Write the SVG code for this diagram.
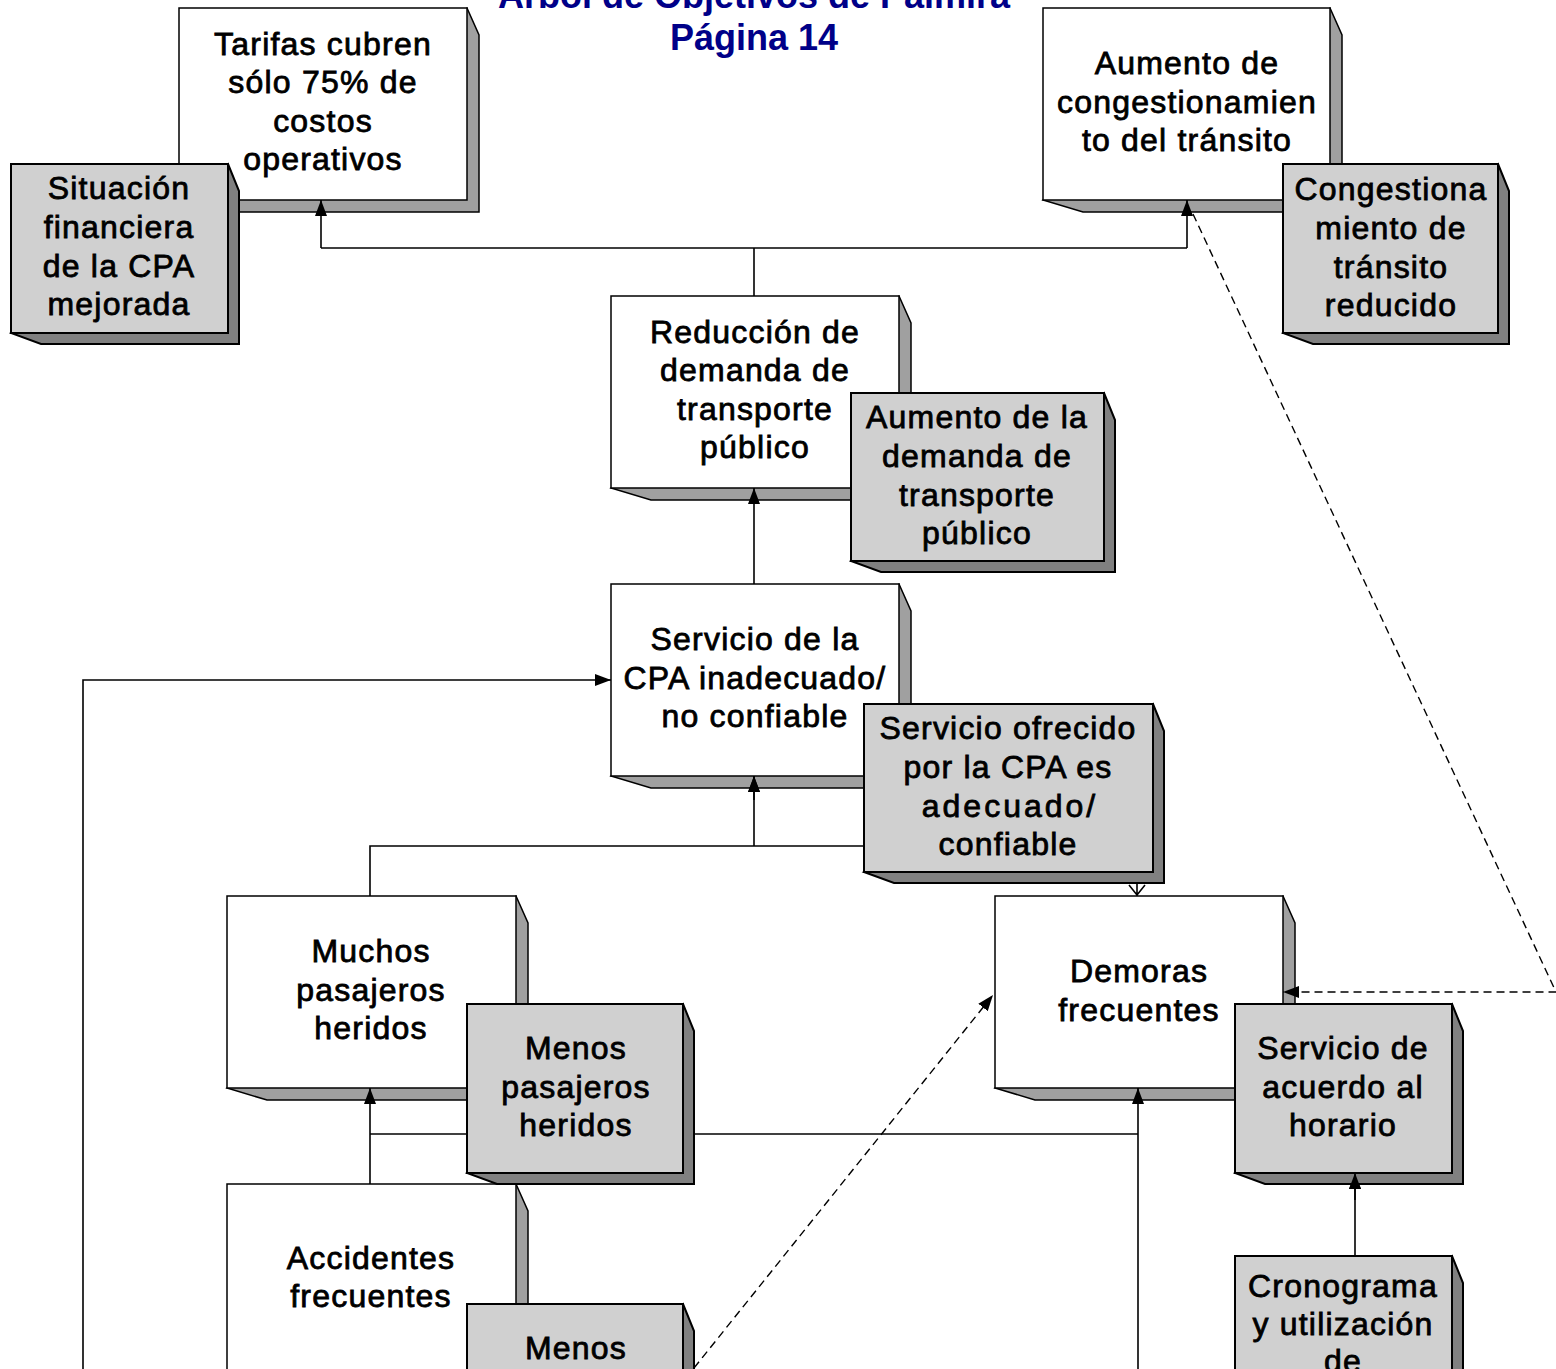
<svg xmlns="http://www.w3.org/2000/svg" width="1556" height="1369" viewBox="0 0 1556 1369">
  <style>
    .front-w { fill: #ffffff; stroke: #000; stroke-width: 1.5; }
    .side-w { fill: #a0a0a0; stroke: #000; stroke-width: 1.5; stroke-linejoin: miter; }
    .front-g { fill: #d0d0d0; stroke: #000; stroke-width: 2; }
    .side-g { fill: #808080; stroke: #000; stroke-width: 2; stroke-linejoin: miter; }
    .lbl { font-family: "Liberation Sans", Arial, sans-serif; font-size: 32px; letter-spacing: 1.2px; fill: #000; stroke: #000; stroke-width: 0.8; text-anchor: middle; }
    .title { font-family: "Liberation Sans", Arial, sans-serif; font-size: 36px; font-weight: bold; fill: #000088; text-anchor: middle; }
    .conn { fill: none; stroke: #000; stroke-width: 1.6; }
    .dash { fill: none; stroke: #000; stroke-width: 1.4; stroke-dasharray: 8 5; }
  </style>
  <defs>
    <marker id="arrow" markerUnits="userSpaceOnUse" markerWidth="16" markerHeight="12" refX="16" refY="6" orient="auto">
      <path d="M0,0 L16,6 L0,12 z" fill="#000"/>
    </marker>
  </defs>

  <rect width="1556" height="1369" fill="#ffffff"/>

  <!-- title -->
  <g id="title">
    <text class="title" x="754" y="8">Árbol de Objetivos de Palmira</text>
    <text class="title" x="754" y="50">Página 14</text>
  </g>

  <!-- white problem boxes: extrusion (x+w,y)(x+w+12,y+27)(x+w+12,y+h+12)(x+40,y+h+12)(x,y+h) -->
  <g id="n-tarifas">
    <polygon class="side-w" points="467,8 479,35 479,212 219,212 179,200"/>
    <rect class="front-w" x="179" y="8" width="288" height="192"/>
    <text class="lbl" x="323" y="55">Tarifas cubren</text>
    <text class="lbl" x="323" y="93">sólo 75% de</text>
    <text class="lbl" x="323" y="132">costos</text>
    <text class="lbl" x="323" y="170">operativos</text>
  </g>

  <g id="n-congestion">
    <polygon class="side-w" points="1330,8 1342,35 1342,212 1083,212 1043,200"/>
    <rect class="front-w" x="1043" y="8" width="287" height="192"/>
    <text class="lbl" x="1187" y="74">Aumento de</text>
    <text class="lbl" x="1187" y="113">congestionamien</text>
    <text class="lbl" x="1187" y="151">to del tránsito</text>
  </g>

  <g id="n-reduccion">
    <polygon class="side-w" points="899,296 911,323 911,500 651,500 611,488"/>
    <rect class="front-w" x="611" y="296" width="288" height="192"/>
    <text class="lbl" x="755" y="343">Reducción de</text>
    <text class="lbl" x="755" y="381">demanda de</text>
    <text class="lbl" x="755" y="420">transporte</text>
    <text class="lbl" x="755" y="458">público</text>
  </g>

  <g id="n-servicio">
    <polygon class="side-w" points="899,584 911,611 911,788 651,788 611,776"/>
    <rect class="front-w" x="611" y="584" width="288" height="192"/>
    <text class="lbl" x="755" y="650">Servicio de la</text>
    <text class="lbl" x="755" y="689">CPA inadecuado/</text>
    <text class="lbl" x="755" y="727">no confiable</text>
  </g>

  <g id="n-muchos">
    <polygon class="side-w" points="516,896 528,923 528,1100 267,1100 227,1088"/>
    <rect class="front-w" x="227" y="896" width="289" height="192"/>
    <text class="lbl" x="371" y="962">Muchos</text>
    <text class="lbl" x="371" y="1001">pasajeros</text>
    <text class="lbl" x="371" y="1039">heridos</text>
  </g>

  <g id="n-demoras">
    <polygon class="side-w" points="1283,896 1295,923 1295,1100 1035,1100 995,1088"/>
    <rect class="front-w" x="995" y="896" width="288" height="192"/>
    <text class="lbl" x="1139" y="982">Demoras</text>
    <text class="lbl" x="1139" y="1021">frecuentes</text>
  </g>

  <g id="n-accidentes">
    <polygon class="side-w" points="516,1184 528,1211 528,1388 267,1388 227,1376"/>
    <rect class="front-w" x="227" y="1184" width="289" height="192"/>
    <text class="lbl" x="371" y="1269">Accidentes</text>
    <text class="lbl" x="371" y="1307">frecuentes</text>
  </g>

  <!-- connectors: drawn above white boxes, below grey objective boxes -->
  <g id="connectors">
    <path class="conn" d="M754,296 V248"/>
    <path class="conn" d="M321,248 H1187"/>
    <path class="conn" d="M321,248 V200" marker-end="url(#arrow)"/>
    <path class="conn" d="M1187,248 V200" marker-end="url(#arrow)"/>
    <path class="conn" d="M754,584 V488" marker-end="url(#arrow)"/>
    <path class="conn" d="M370,896 V846 H1137"/>
    <path class="conn" d="M754,846 V776" marker-end="url(#arrow)"/>
    <path class="conn" d="M1137,880 V896 M1129,885 L1137,895 L1145,885"/>
    <path class="conn" d="M83,1369 V680 H611" marker-end="url(#arrow)"/>
    <path class="conn" d="M370,1184 V1088" marker-end="url(#arrow)"/>
    <path class="conn" d="M370,1134 H1138"/>
    <path class="conn" d="M1138,1369 V1088" marker-end="url(#arrow)"/>
    <path class="conn" d="M1355,1256 V1173" marker-end="url(#arrow)"/>
    <path class="dash" d="M694,1368 L993,995" marker-end="url(#arrow)"/>
    <path class="dash" d="M1193,214 L1556,992 H1283" marker-end="url(#arrow)"/>
  </g>

  <!-- grey objective boxes: extrusion (x+w,y)(x+w+11,y+27)(x+w+11,y+h+11)(x+30,y+h+11)(x,y+h) -->
  <g id="o-financiera">
    <polygon class="side-g" points="228,164 239,191 239,344 41,344 11,333"/>
    <rect class="front-g" x="11" y="164" width="217" height="169"/>
    <text class="lbl" x="119" y="199">Situación</text>
    <text class="lbl" x="119" y="238">financiera</text>
    <text class="lbl" x="119" y="277">de la CPA</text>
    <text class="lbl" x="119" y="315">mejorada</text>
  </g>

  <g id="o-congestion">
    <polygon class="side-g" points="1498,164 1509,191 1509,344 1313,344 1283,333"/>
    <rect class="front-g" x="1283" y="164" width="215" height="169"/>
    <text class="lbl" x="1391" y="200">Congestiona</text>
    <text class="lbl" x="1391" y="239">miento de</text>
    <text class="lbl" x="1391" y="278">tránsito</text>
    <text class="lbl" x="1391" y="316">reducido</text>
  </g>

  <g id="o-demanda">
    <polygon class="side-g" points="1104,393 1115,420 1115,572 881,572 851,561"/>
    <rect class="front-g" x="851" y="393" width="253" height="168"/>
    <text class="lbl" x="977" y="428">Aumento de la</text>
    <text class="lbl" x="977" y="467">demanda de</text>
    <text class="lbl" x="977" y="506">transporte</text>
    <text class="lbl" x="977" y="544">público</text>
  </g>

  <g id="o-servicio">
    <polygon class="side-g" points="1153,704 1164,731 1164,883 894,883 864,872"/>
    <rect class="front-g" x="864" y="704" width="289" height="168"/>
    <text class="lbl" x="1008" y="739">Servicio ofrecido</text>
    <text class="lbl" x="1008" y="778">por la CPA es</text>
    <text class="lbl" x="1010" y="817" style="letter-spacing:3px">adecuado/</text>
    <text class="lbl" x="1008" y="855">confiable</text>
  </g>

  <g id="o-heridos">
    <polygon class="side-g" points="683,1004 694,1031 694,1184 497,1184 467,1173"/>
    <rect class="front-g" x="467" y="1004" width="216" height="169"/>
    <text class="lbl" x="576" y="1059">Menos</text>
    <text class="lbl" x="576" y="1098">pasajeros</text>
    <text class="lbl" x="576" y="1136">heridos</text>
  </g>

  <g id="o-horario">
    <polygon class="side-g" points="1452,1004 1463,1031 1463,1184 1265,1184 1235,1173"/>
    <rect class="front-g" x="1235" y="1004" width="217" height="169"/>
    <text class="lbl" x="1343" y="1059">Servicio de</text>
    <text class="lbl" x="1343" y="1098">acuerdo al</text>
    <text class="lbl" x="1343" y="1136">horario</text>
  </g>

  <g id="o-accidentes">
    <polygon class="side-g" points="683,1304 694,1331 694,1484 497,1484 467,1473"/>
    <rect class="front-g" x="467" y="1304" width="216" height="169"/>
    <text class="lbl" x="576" y="1359">Menos</text>
  </g>

  <g id="o-cronograma">
    <polygon class="side-g" points="1452,1256 1463,1283 1463,1436 1265,1436 1235,1425"/>
    <rect class="front-g" x="1235" y="1256" width="217" height="169"/>
    <text class="lbl" x="1343" y="1297">Cronograma</text>
    <text class="lbl" x="1343" y="1335">y utilización</text>
    <text class="lbl" x="1343" y="1372">de</text>
  </g>

  <!-- arrowheads that sit on top of the grey boxes' extrusions -->
  <g id="connector-tips">
    <path class="conn" d="M754,800 V776" marker-end="url(#arrow)"/>
    <path class="conn" d="M1355,1200 V1173" marker-end="url(#arrow)"/>
  </g>
</svg>
